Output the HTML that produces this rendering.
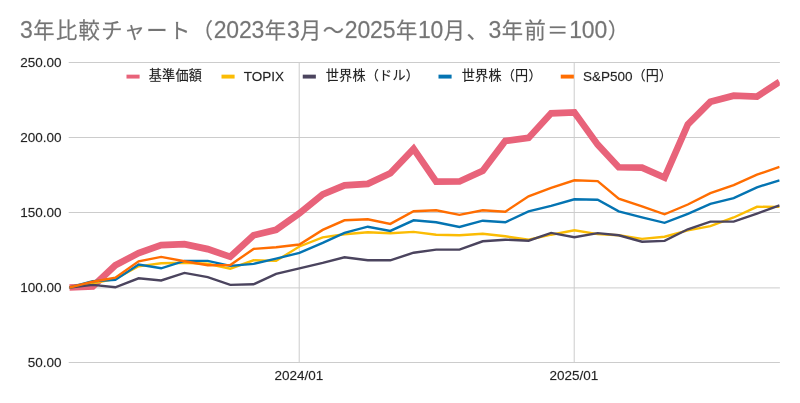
<!DOCTYPE html>
<html lang="ja"><head><meta charset="utf-8"><title>3年比較チャート</title>
<style>
html,body{margin:0;padding:0;background:#fff;}
body{width:800px;height:403px;overflow:hidden;}
svg{display:block;}
text{font-family:"Liberation Sans","Noto Sans CJK JP",sans-serif;}
.title{font-size:22.67px;fill:#757575;stroke:#757575;stroke-width:0.35px;stroke-opacity:0.5;}
.td{font-size:23px;letter-spacing:-0.18px;}
.tc{font-size:21.3px;letter-spacing:1.37px;}
.ax{font-size:13.5px;fill:#222;stroke:#222;stroke-width:0.3px;stroke-opacity:0.45;}
.leg{font-size:13.5px;fill:#222;stroke:#222;stroke-width:0.3px;stroke-opacity:0.45;}
.lc{font-size:13.1px;letter-spacing:0.23px;}
</style></head><body>
<svg width="800" height="403" viewBox="0 0 800 403">
<rect x="0" y="0" width="800" height="403" fill="#ffffff"/>
<defs><clipPath id="plot"><rect x="69" y="62" width="710.8" height="301"/></clipPath></defs>
<text class="title" x="20" y="38.3"><tspan class="td" y="38.3">3</tspan><tspan class="tc" y="37.8" dx="0.6">年比較チャート（</tspan><tspan class="td" y="38.3" dx="-0.6">2023</tspan><tspan class="tc" y="37.8" dx="0.6">年</tspan><tspan class="td" y="38.3" dx="-0.6">3</tspan><tspan class="tc" y="37.8" dx="0.6">月～</tspan><tspan class="td" y="38.3" dx="-0.6">2025</tspan><tspan class="tc" y="37.8" dx="0.6">年</tspan><tspan class="td" y="38.3" dx="-0.6">10</tspan><tspan class="tc" y="37.8" dx="0.6">月、</tspan><tspan class="td" y="38.3" dx="-0.6">3</tspan><tspan class="tc" y="37.8" dx="0.6">年前＝</tspan><tspan class="td" y="38.3" dx="-0.6">100</tspan><tspan class="tc" y="37.8" dx="0.6">）</tspan></text>
<g fill="#cccccc">
<rect x="68.7" y="62" width="711.2" height="1"/>
<rect x="68.7" y="137" width="711.2" height="1"/>
<rect x="68.7" y="212" width="711.2" height="1"/>
<rect x="68.7" y="287.4" width="711.2" height="1"/>
<rect x="68.7" y="362" width="711.2" height="1"/>
<rect x="298.7" y="62" width="1" height="301"/>
<rect x="573.7" y="62" width="1" height="301"/>
</g>
<text class="ax" x="61.5" y="67.2" text-anchor="end">250.00</text>
<text class="ax" x="61.5" y="142.2" text-anchor="end">200.00</text>
<text class="ax" x="61.5" y="217.2" text-anchor="end">150.00</text>
<text class="ax" x="61.5" y="292.2" text-anchor="end">100.00</text>
<text class="ax" x="61.5" y="367.2" text-anchor="end">50.00</text>
<text class="ax" x="298.8" y="380.4" text-anchor="middle">2024/01</text>
<text class="ax" x="573.8" y="380.4" text-anchor="middle">2025/01</text>
<g clip-path="url(#plot)" fill="none" stroke-linejoin="miter" stroke-linecap="butt">
<polyline stroke="#e8637a" stroke-width="6.7" points="69.5,287.5 92.79,286.5 115.33,265.3 138.62,253.1 161.16,245.1 184.45,244.1 207.74,249.1 230.28,256.8 253.57,235.3 276.11,229.8 299.4,213.3 322.7,194.3 344.48,185.3 367.78,183.9 390.31,173.3 413.61,148.9 436.15,181.7 459.44,181.5 482.73,170.7 505.27,140.9 528.56,137.9 551.1,113.3 574.39,112.3 597.68,144.6 618.72,167.3 642.01,167.7 664.55,177.5 687.84,124.5 710.38,101.8 733.67,95.7 756.96,96.5 779.5,81.9"/>
<polyline stroke="#fbbc04" stroke-width="2.4" points="69.5,287.5 92.79,283.3 115.33,278.9 138.62,266.3 161.16,263.3 184.45,262.7 207.74,263.8 230.28,268.7 253.57,260.3 276.11,260.9 299.4,246.5 322.7,237.3 344.48,234.3 367.78,232.3 390.31,233.3 413.61,231.9 436.15,234.8 459.44,235.3 482.73,233.7 505.27,236.3 528.56,239.7 551.1,234.7 574.39,230.3 597.68,234.1 618.72,235.3 642.01,238.9 664.55,236.7 687.84,230.3 710.38,226.1 733.67,217.5 756.96,206.8 779.5,206.9"/>
<polyline stroke="#4b445e" stroke-width="2.4" points="69.5,287.5 92.79,284.9 115.33,287.3 138.62,278.3 161.16,280.5 184.45,272.9 207.74,277.1 230.28,284.9 253.57,284.3 276.11,273.9 299.4,268.3 322.7,262.9 344.48,257.3 367.78,260.3 390.31,260.3 413.61,252.7 436.15,249.6 459.44,249.6 482.73,241.3 505.27,239.7 528.56,240.7 551.1,232.9 574.39,237.3 597.68,233.1 618.72,235.3 642.01,241.7 664.55,240.9 687.84,229.3 710.38,221.6 733.67,221.6 756.96,213.6 779.5,205.3"/>
<polyline stroke="#0474b2" stroke-width="2.4" points="69.5,287.5 92.79,281.3 115.33,279.9 138.62,264.5 161.16,268.3 184.45,260.9 207.74,260.9 230.28,265.9 253.57,263.9 276.11,258.7 299.4,252.9 322.7,242.9 344.48,232.9 367.78,226.7 390.31,230.9 413.61,220.3 436.15,222.3 459.44,226.9 482.73,220.7 505.27,222.3 528.56,211.3 551.1,205.9 574.39,199.3 597.68,199.8 618.72,211.3 642.01,217.3 664.55,222.8 687.84,213.8 710.38,203.9 733.67,198.1 756.96,187.3 779.5,180.3"/>
<polyline stroke="#ff6d01" stroke-width="2.4" points="69.5,287.5 92.79,281.7 115.33,277.7 138.62,261.3 161.16,256.9 184.45,261.3 207.74,265.3 230.28,265.1 253.57,248.9 276.11,247.3 299.4,244.5 322.7,229.9 344.48,220.3 367.78,219.3 390.31,223.9 413.61,211.3 436.15,210.3 459.44,214.9 482.73,210.3 505.27,211.7 528.56,196.3 551.1,187.9 574.39,180.3 597.68,181.1 618.72,198.7 642.01,206.3 664.55,214.3 687.84,204.5 710.38,193.1 733.67,185.1 756.96,174.7 779.5,166.9"/>
</g>
<rect x="126.5" y="74.65" width="13.1" height="3.9" fill="#e8637a"/>
<text class="leg" x="148.8" y="81"><tspan class="lc" y="80.4">基準価額</tspan></text>
<rect x="221.5" y="74.65" width="13.1" height="3.9" fill="#fbbc04"/>
<text class="leg" x="243.8" y="81"><tspan y="81">TOPIX</tspan></text>
<rect x="302.75" y="74.65" width="13.1" height="3.9" fill="#4b445e"/>
<text class="leg" x="325.8" y="81"><tspan class="lc" y="80.4">世界株（ドル）</tspan></text>
<rect x="438.5" y="74.65" width="13.1" height="3.9" fill="#0474b2"/>
<text class="leg" x="461.8" y="81"><tspan class="lc" y="80.4">世界株（円）</tspan></text>
<rect x="560.75" y="74.65" width="13.1" height="3.9" fill="#ff6d01"/>
<text class="leg" x="582.9" y="81"><tspan y="81">S&amp;P500</tspan><tspan class="lc" y="80.4">（円）</tspan></text>
</svg>
</body></html>
